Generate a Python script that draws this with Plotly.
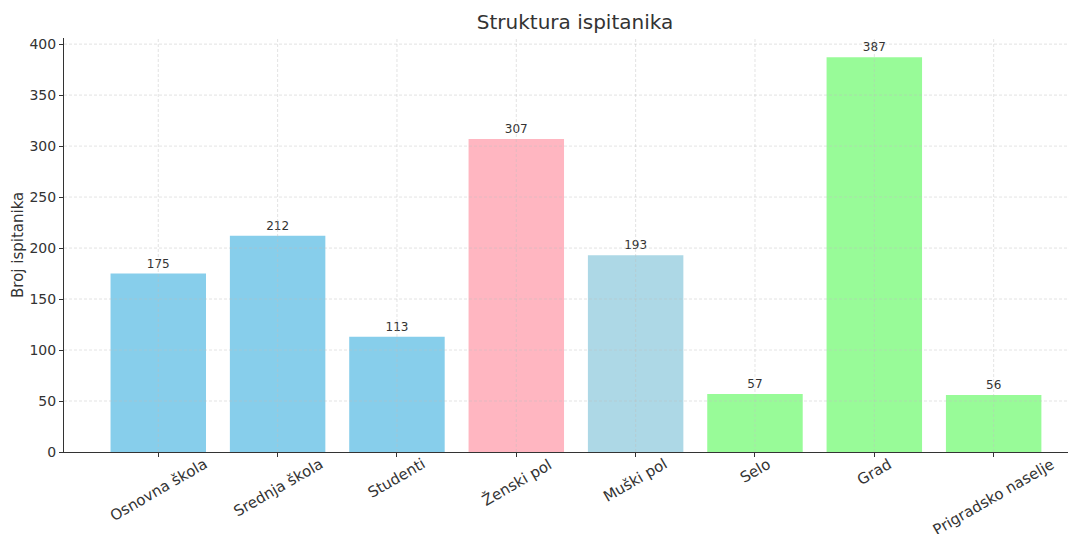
import plotly.graph_objects as go

categories = ["Osnovna škola", "Srednja škola", "Studenti", "Ženski pol",
              "Muški pol", "Selo", "Grad", "Prigradsko naselje"]
values = [175, 212, 113, 307, 193, 57, 387, 56]
colors = ["#87CEEB", "#87CEEB", "#87CEEB", "#FFB6C1",
          "#ADD8E6", "#98FB98", "#98FB98", "#98FB98"]
y_ticks = [0, 50, 100, 150, 200, 250, 300, 350, 400]

# page body has an 8px margin; compensate so the plot lands where the reference has it
OFF = 8
W, H = 1076 - OFF, 534 - OFF
L, R, T, B = 64 - OFF, 0, 38 - OFF, 82
PW, PH = W - L - R, H - T - B
txt = "#333333"
grid = dict(color="rgba(190,190,190,0.55)", width=0.8, dash="3px,2px")

fig = go.Figure()
fig.add_trace(go.Bar(
    x=list(range(len(categories))), y=values,
    marker=dict(color=colors, line=dict(width=0)),
    width=0.8,
    text=[str(v) for v in values],
    textposition="outside",
    textfont=dict(family="DejaVu Sans", size=12, color=txt),
    cliponaxis=False,
))

shapes = []
for i in range(len(categories)):
    shapes.append(dict(type="line", xref="x", yref="paper", x0=i, x1=i, y0=0, y1=1,
                       line=grid, layer="above"))
for t in y_ticks[1:]:
    shapes.append(dict(type="line", xref="paper", yref="y", x0=0, x1=1, y0=t, y1=t,
                       line=grid, layer="above"))

annotations = []
for i, c in enumerate(categories):
    annotations.append(dict(text=c, x=i, xref="x", y=0, yref="paper",
                            xanchor="center", yanchor="top", textangle=-30,
                            showarrow=False, font=dict(size=15, color=txt)))
annotations.append(dict(text="Broj ispitanika", x=(18 - OFF - L) / PW, xref="paper",
                        y=0.5, yref="paper", xanchor="center", yanchor="middle",
                        textangle=-90, showarrow=False, font=dict(size=15, color=txt)))

fig.update_layout(
    width=W, height=H,
    margin=dict(l=L, r=R, t=T, b=B, autoexpand=False),
    paper_bgcolor="white", plot_bgcolor="white",
    font=dict(family="DejaVu Sans", color=txt),
    title=dict(text="Struktura ispitanika", x=(575 - OFF) / W, xanchor="center", xref="container",
               y=1 - (22 - OFF) / H, yanchor="middle", yref="container",
               font=dict(size=20, color=txt)),
    showlegend=False,
    shapes=shapes,
    annotations=annotations,
    xaxis=dict(
        tickmode="array", tickvals=list(range(len(categories))),
        showticklabels=False, automargin=False,
        range=[-0.79, 7.69],
        showgrid=False, zeroline=False,
        showline=True, linecolor=txt, linewidth=1,
        ticks="outside", ticklen=4, tickcolor=txt,
    ),
    yaxis=dict(
        range=[0, 406], tickmode="array", tickvals=y_ticks, automargin=False,
        showgrid=False, zeroline=False,
        showline=True, linecolor=txt, linewidth=1,
        ticks="outside", ticklen=4, tickcolor=txt,
        tickfont=dict(size=14, color=txt),
    ),
)

fig.write_html("out.html")
